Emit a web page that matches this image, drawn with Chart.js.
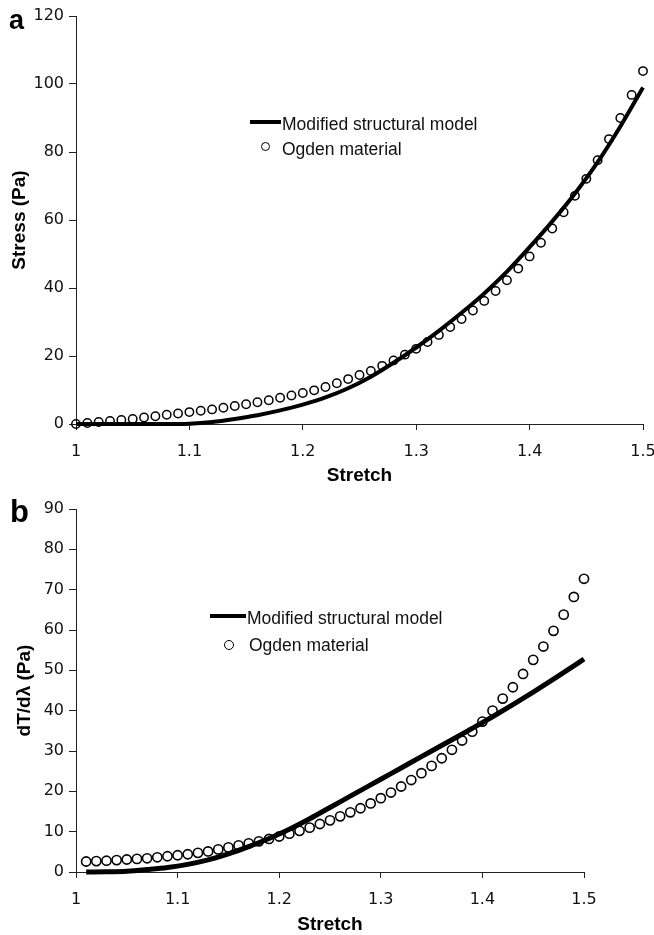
<!DOCTYPE html>
<html>
<head>
<meta charset="utf-8">
<script src="https://cdn.jsdelivr.net/npm/chart.js"></script>
<style>
    body { margin: 0; background: #fff; }
    .wrap { position: relative; width: 654px; height: 935px; overflow: hidden; }
    canvas { position: absolute; left: 0; }
    #stress-chart { top: 0; }
    #slope-chart { top: 500px; }
    .panel { position: absolute; font-family: "Liberation Sans", Arial, sans-serif; font-weight: bold; color: #000; }
    .legend { position: absolute; font-family: "Liberation Sans", Arial, sans-serif; font-size: 17.5px; line-height: 20px; color: #111; white-space: nowrap; }
    .legend .line { position: absolute; height: 4px; background: #000; }
    .legend .dot { position: absolute; border: 1.6px solid #000; border-radius: 50%; box-sizing: border-box; background: #fff; }
    .legend .title { position: absolute; }
</style>
</head>
<body>
<div class="wrap">
    <canvas id="stress-chart" width="654" height="500"></canvas>
    <canvas id="slope-chart" width="654" height="435"></canvas>

    <div class="panel" style="left:9px; top:7px; font-size:27px; line-height:27px;">a</div>
    <div class="panel" style="left:10px; top:496px; font-size:31px; line-height:31px;">b</div>

    <div class="legend" id="legend-a">
        <span class="line" style="left:250px; top:120px; width:31px;"></span>
        <span class="title" style="left:282px; top:114px;">Modified structural model</span>
        <span class="dot" style="left:261px; top:142px; width:9px; height:9px;"></span>
        <span class="title" style="left:282px; top:139px;">Ogden material</span>
    </div>
    <div class="legend" id="legend-b">
        <span class="line" style="left:210px; top:614px; width:36px;"></span>
        <span class="title" style="left:247px; top:608px;">Modified structural model</span>
        <span class="dot" style="left:224px; top:640px; width:10px; height:10px;"></span>
        <span class="title" style="left:249px; top:635px;">Ogden material</span>
    </div>
</div>

<script>
// (a) stress vs stretch
const stretchOgdenA = [1.00, 1.01, 1.02, 1.03, 1.04, 1.05, 1.06, 1.07, 1.08, 1.09,
    1.10, 1.11, 1.12, 1.13, 1.14, 1.15, 1.16, 1.17, 1.18, 1.19,
    1.20, 1.21, 1.22, 1.23, 1.24, 1.25, 1.26, 1.27, 1.28, 1.29,
    1.30, 1.31, 1.32, 1.33, 1.34, 1.35, 1.36, 1.37, 1.38, 1.39,
    1.40, 1.41, 1.42, 1.43, 1.44, 1.45, 1.46, 1.47, 1.48, 1.49, 1.50];
const stressOgden = [0, 0.3, 0.6, 0.9, 1.2, 1.5, 1.9, 2.3, 2.7, 3.1,
    3.5, 3.9, 4.3, 4.8, 5.3, 5.8, 6.4, 7.0, 7.7, 8.4,
    9.1, 9.9, 10.9, 12.0, 13.2, 14.4, 15.6, 17.1, 18.7, 20.4,
    22.1, 24.1, 26.2, 28.5, 30.9, 33.4, 36.2, 39.1, 42.3, 45.7,
    49.3, 53.3, 57.5, 62.3, 67.1, 72.1, 77.6, 83.8, 90.0, 96.8, 103.8];

const stretchModelA = [1.00, 1.02, 1.04, 1.06, 1.08, 1.10, 1.12, 1.14, 1.16, 1.18,
    1.20, 1.22, 1.24, 1.26, 1.28, 1.30, 1.32, 1.34, 1.36, 1.38,
    1.40, 1.42, 1.44, 1.46, 1.48, 1.50];
const stressModel = [0, 0, 0, 0, 0, 0.1, 0.6, 1.5, 2.6, 4.0,
    5.7, 7.8, 10.5, 13.9, 18.0, 22.5, 27.4, 32.7, 38.4, 44.8,
    52.0, 59.6, 67.8, 77.0, 87.5, 99.0];

// (b) dT/dλ vs stretch
const stretchOgdenB = [1.01, 1.02, 1.03, 1.04, 1.05, 1.06, 1.07, 1.08, 1.09,
    1.10, 1.11, 1.12, 1.13, 1.14, 1.15, 1.16, 1.17, 1.18, 1.19,
    1.20, 1.21, 1.22, 1.23, 1.24, 1.25, 1.26, 1.27, 1.28, 1.29,
    1.30, 1.31, 1.32, 1.33, 1.34, 1.35, 1.36, 1.37, 1.38, 1.39,
    1.40, 1.41, 1.42, 1.43, 1.44, 1.45, 1.46, 1.47, 1.48, 1.49, 1.50];
const slopeOgden = [2.6, 2.7, 2.8, 2.95, 3.1, 3.25, 3.4, 3.65, 3.9,
    4.15, 4.4, 4.75, 5.1, 5.6, 6.1, 6.6, 7.1, 7.6, 8.2,
    8.8, 9.5, 10.2, 11.0, 11.9, 12.8, 13.8, 14.8, 15.8, 17.0,
    18.3, 19.7, 21.2, 22.8, 24.5, 26.3, 28.2, 30.3, 32.6, 34.8,
    37.3, 40.0, 43.0, 45.8, 49.1, 52.6, 55.9, 59.8, 63.8, 68.2, 72.7];

const stretchModelB = [1.01, 1.03, 1.05, 1.07, 1.09, 1.11, 1.13, 1.15, 1.17, 1.19,
    1.21, 1.23, 1.25, 1.27, 1.29, 1.31, 1.33, 1.35, 1.37, 1.39,
    1.41, 1.43, 1.45, 1.47, 1.49, 1.50];
const slopeModel = [0, 0.05, 0.2, 0.6, 1.1, 1.9, 3.0, 4.5, 6.3, 8.3,
    10.6, 13.2, 16.0, 18.8, 21.6, 24.4, 27.2, 30.0, 32.8, 35.6,
    38.5, 41.5, 44.6, 47.8, 51.1, 52.8];

const xTicks = [1, 1.1, 1.2, 1.3, 1.4, 1.5];
const yTicksA = [0, 20, 40, 60, 80, 100, 120];
const yTicksB = [0, 10, 20, 30, 40, 50, 60, 70, 80, 90];

const toPoints = (xs, ys) => xs.map((x, i) => ({ x: x, y: ys[i] }));

const tickFont = { family: 'DejaVu Sans', size: 16 };
const titleFont = { family: 'Liberation Sans', size: 19, weight: 'bold', lineHeight: 1 };
const axisColor = '#222';

function buildOptions(cfg) {
    return {
        responsive: false,
        animation: false,
        devicePixelRatio: 1,
        layout: { padding: cfg.padding },
        plugins: {
            legend: { display: false },
            tooltip: { enabled: false },
        },
        scales: {
            x: {
                type: 'linear',
                min: 1,
                max: 1.5,
                afterBuildTicks: scale => { scale.ticks = xTicks.map(v => ({ value: v })); },
                afterFit: scale => {
                    scale.height = cfg.xHeight;
                    scale.paddingLeft = 0;
                    scale.paddingRight = 0;
                },
                border: { color: axisColor, width: 1 },
                grid: { drawOnChartArea: false, tickLength: 6, color: axisColor },
                ticks: {
                    font: tickFont,
                    color: '#111',
                    padding: 12,
                    maxRotation: 0,
                    callback: v => String(Math.round(v * 10) / 10),
                },
                title: {
                    display: true,
                    text: 'Stretch',
                    font: titleFont,
                    color: '#000',
                    padding: { top: 0, bottom: cfg.xTitlePad },
                },
            },
            y: {
                type: 'linear',
                min: 0,
                max: cfg.yMax,
                afterBuildTicks: scale => { scale.ticks = cfg.yTicks.map(v => ({ value: v })); },
                afterFit: scale => {
                    scale.width = 76;
                    scale.paddingTop = 0;
                    scale.paddingBottom = 0;
                },
                border: { color: axisColor, width: 1 },
                grid: { drawOnChartArea: false, tickLength: 7, color: axisColor },
                ticks: {
                    font: tickFont,
                    color: '#111',
                    padding: 5,
                },
                title: {
                    display: true,
                    text: cfg.yTitle,
                    font: titleFont,
                    color: '#000',
                    padding: { top: cfg.yTitlePad, bottom: 0 },
                },
            },
        },
    };
}

// 그림 a
new Chart(document.getElementById('stress-chart'), {
    type: 'scatter',
    data: {
        datasets: [
            {
                label: 'Modified structural model',
                data: toPoints(stretchModelA, stressModel),
                showLine: true,
                borderColor: '#000',
                borderWidth: 4,
                pointRadius: 0,
                cubicInterpolationMode: 'monotone',
                clip: false,
                order: 2,
            },
            {
                label: 'Ogden material',
                data: toPoints(stretchOgdenA, stressOgden),
                showLine: false,
                pointStyle: 'circle',
                pointRadius: 4.2,
                borderWidth: 1.5,
                borderColor: '#000',
                backgroundColor: 'rgba(255,255,255,0)',
                clip: false,
                order: 1,
            },
        ],
    },
    options: buildOptions({
        padding: { left: 0, right: 11, top: 16, bottom: 0 },
        xHeight: 76,
        xTitlePad: 14.5,
        yMax: 120,
        yTicks: yTicksA,
        yTitle: 'Stress (Pa)',
        yTitlePad: 10,
    }),
});

// 그림 b
new Chart(document.getElementById('slope-chart'), {
    type: 'scatter',
    data: {
        datasets: [
            {
                label: 'Modified structural model',
                data: toPoints(stretchModelB, slopeModel),
                showLine: true,
                borderColor: '#000',
                borderWidth: 5,
                pointRadius: 0,
                cubicInterpolationMode: 'monotone',
                clip: false,
                order: 2,
            },
            {
                label: 'Ogden material',
                data: toPoints(stretchOgdenB, slopeOgden),
                showLine: false,
                pointStyle: 'circle',
                pointRadius: 4.6,
                borderWidth: 1.6,
                borderColor: '#000',
                backgroundColor: 'rgba(255,255,255,0)',
                clip: false,
                order: 1,
            },
        ],
    },
    options: buildOptions({
        padding: { left: 0, right: 70, top: 9, bottom: 0 },
        xHeight: 63,
        xTitlePad: 0.5,
        yMax: 90,
        yTicks: yTicksB,
        yTitle: 'dT/dλ (Pa)',
        yTitlePad: 15,
    }),
});
</script>
</body>
</html>
